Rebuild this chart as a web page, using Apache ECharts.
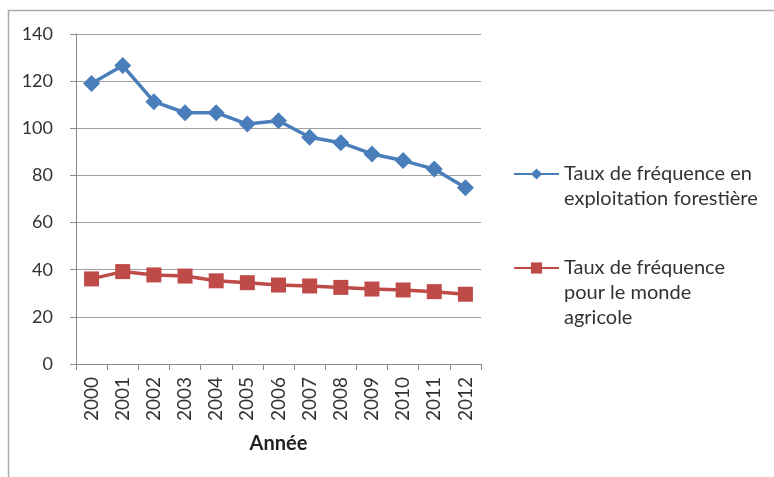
<!DOCTYPE html>
<html><head><meta charset="utf-8">
<script src="https://cdn.jsdelivr.net/npm/echarts@6/dist/echarts.min.js"></script>
<style>html,body{margin:0;padding:0;background:#fff}#c{width:774px;height:477px}</style>
</head><body><div id="c"></div>
<script>
const years = ['2000','2001','2002','2003','2004','2005','2006','2007','2008','2009','2010','2011','2012'];
const forestry = [119, 126.6, 111.3, 106.6, 106.6, 101.8, 103.2, 96.2, 93.9, 89.1, 86.3, 82.7, 74.8];
const agriculture = [36.1, 39.2, 37.8, 37.3, 35.3, 34.5, 33.5, 33.1, 32.5, 31.8, 31.4, 30.7, 29.6];
const yTicks = [0, 20, 40, 60, 80, 100, 120, 140];
const seriesNames = ['Taux de fréquence en\nexploitation forestière', 'Taux de fréquence\npour le monde\nagricole'];
const xName = 'Année';

const font = 'Lato, "Open Sans", sans-serif';
const LH = 25;
function legendFor(name, firstLineCenterY) {
  const lines = name.split('\n').length;
  const boxH = (2 * lines - 1) * LH;
  return {
    orient: 'vertical', left: 513, top: firstLineCenterY - boxH / 2, padding: 0,
    itemWidth: 45, itemHeight: 14,
    formatter: n => ' \n'.repeat(lines - 1) + n,
    textStyle: {fontSize: 20, color: '#333', fontFamily: font, lineHeight: LH},
    data: [name]
  };
}
const chart = echarts.init(document.getElementById('c'), null, {renderer: 'canvas'});
chart.setOption({
  animation: false,
  textStyle: {fontFamily: font},
  graphic: [{
    type: 'rect', silent: true, z: -1,
    shape: {x: 8.5, y: 10.5, width: 900, height: 600},
    style: {fill: 'none', stroke: '#aaaaaa', lineWidth: 1.5}
  }],
  grid: {left: 76, right: 293, top: 34, bottom: 113},
  legend: [legendFor(seriesNames[0], 174), legendFor(seriesNames[1], 268)],
  xAxis: {
    type: 'category', data: years, boundaryGap: true,
    name: xName, nameLocation: 'middle', nameGap: 70,
    nameTextStyle: {fontSize: 20, fontWeight: 'bold', color: '#222', fontFamily: font},
    axisLine: {lineStyle: {color: '#8a8a8a', width: 1}},
    axisTick: {show: true, alignWithLabel: false, length: 6, lineStyle: {color: '#8a8a8a'}},
    axisLabel: {rotate: 90, fontSize: 19, color: '#333', margin: 13, interval: 0, fontFamily: font}
  },
  yAxis: {
    type: 'value', min: yTicks[0], max: yTicks[yTicks.length - 1], interval: 20,
    axisLine: {show: true, lineStyle: {color: '#8a8a8a', width: 1}},
    axisTick: {show: true, length: 6, lineStyle: {color: '#8a8a8a'}},
    axisLabel: {fontSize: 18, color: '#333', margin: 23, fontFamily: font},
    splitLine: {lineStyle: {color: '#a0a0a0', width: 1}}
  },
  series: [{
    name: seriesNames[0], type: 'line', data: forestry,
    symbol: 'diamond', symbolSize: 17,
    lineStyle: {color: '#4A7EBB', width: 3.5},
    itemStyle: {color: '#4A7EBB'}
  }, {
    name: seriesNames[1], type: 'line', data: agriculture,
    symbol: 'rect', symbolSize: 15,
    lineStyle: {color: '#BE4B48', width: 3.5},
    itemStyle: {color: '#BE4B48'}
  }]
});
</script></body></html>
